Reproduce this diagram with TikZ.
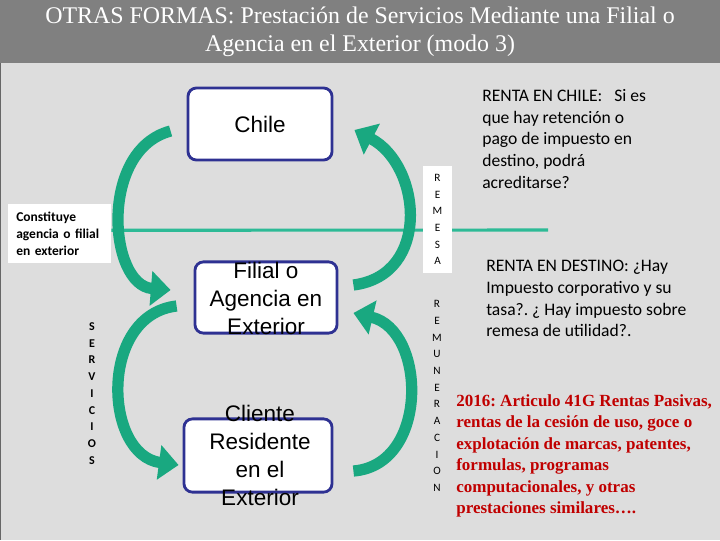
\documentclass[tikz,border=0pt]{standalone}
\usepackage{fontspec}
\setmainfont{Liberation Serif}
\setsansfont{Liberation Sans}
\newfontfamily\calibri{Carlito}
\usetikzlibrary{arrows.meta,positioning,calc}
\definecolor{fondo}{HTML}{DDDDDD}
\definecolor{barra}{HTML}{808080}
\definecolor{azulcaja}{HTML}{2E3192}
\definecolor{verde}{HTML}{19A880}
\definecolor{verdelinea}{HTML}{2DBA96}
\definecolor{rojo}{HTML}{C00000}
\frenchspacing

\begin{document}
\begin{tikzpicture}[x=0.025cm, y=-0.025cm,
  caja/.style={draw=azulcaja, fill=white, line width=2pt, rounded corners=6pt},
  textocaja/.style={font=\sffamily\fontsize{16}{19.9}\selectfont, align=center, inner sep=0pt},
  blanca/.style={fill=white, inner sep=0pt},
  flecha/.style={verde, line width=8pt, -{Triangle[width=24pt,length=14pt]}},
  letras/.style={font=\calibri\fontsize{8}{11.9}\selectfont, align=center, inner sep=0pt},
  nota/.style={font=\calibri\fontsize{12.5}{15.4}\selectfont, align=left, anchor=north west, inner sep=0pt}]
  % Filial o agencia en el exterior (modo 3)
  \useasboundingbox (0,0) rectangle (720,540);
  \fill[fondo] (0,0) rectangle (720,540);
  \fill[barra] (0,0) rectangle (720,63);
  \draw[black!60, line width=1.2pt] (0.6,63) -- (0.6,540);
  \node[white, align=center, font=\fontsize{17}{19.9}\selectfont] (titulo) at (360,32)
    {OTRAS FORMAS: Prestación de Servicios Mediante una Filial o\\Agencia en el Exterior (modo 3)};

  \node[blanca, anchor=north west, text width=2.17cm, inner xsep=0.2cm, minimum height=1.475cm, align=left,
    font=\calibri\bfseries\fontsize{9.6}{12}\selectfont] (constituye) at (8,204)
    {Constituye\\agencia o filial\\en exterior};
  \coordinate (finlinea) at (548,230);
  \draw[verdelinea, line width=2.2pt] ($(constituye.east)+(0,-3.5)$) -- (finlinea);

  \node[caja, textocaja, minimum width=3.6cm, minimum height=1.8cm] (chile) at (260,124) {Chile};
  \node[caja, minimum width=3.55cm, minimum height=1.78cm] (filial) at (266,297.5) {};
  \node[caja, minimum width=3.7cm, minimum height=1.83cm] (cliente) at (258,455.5) {};
  \node[textocaja] (filialtexto) at (266,298) {Filial o\\Agencia en\\Exterior};
  \node[textocaja] (clientetexto) at (260,455) {Cliente\\Residente\\en el\\Exterior};

  \draw[flecha] ($(chile.west)+(-16,7)$) .. controls +(-72,19) and +(-62,-5) .. ($(filial.west)+(-23,-7.5)$);
  \draw[flecha] ($(filial.west)+(-17,8.5)$) .. controls +(-78,9) and +(-75,-10) .. ($(cliente.west)+(-4,9.5)$);
  \draw[flecha] ($(filial.east)+(15,-12.5)$) .. controls +(78,-10) and +(67,35) .. ($(chile.east)+(21,6)$);
  \draw[flecha] ($(cliente.east)+(20,15.5)$) .. controls +(76,-6) and +(73,17) .. ($(filial.east)+(15,15.5)$);

  \node[letras, font=\calibri\bfseries\fontsize{8.5}{11.9}\selectfont] (servicios) at (92,393.5) {S\\E\\R\\V\\I\\C\\I\\O\\S};
  \node[blanca, letras, minimum width=0.725cm, minimum height=2.68cm] (remesa) at (437.5,219.5) {R\\E\\M\\E\\S\\A};
  \node[letras] (remuneracion) at (437,396) {R\\E\\M\\U\\N\\E\\R\\A\\C\\I\\O\\N};

  \node[nota] (rentachile) at (482,89) {RENTA EN CHILE:\ \ \ Si es\\que hay retención o\\pago de impuesto en\\destino, podrá\\acreditarse?};
  \node[nota] (rentadestino) at (486,260) {RENTA EN DESTINO: ¿Hay\\Impuesto corporativo y su\\tasa?. ¿ Hay impuesto sobre\\remesa de utilidad?.};
  \node[nota, rojo, font=\bfseries\fontsize{12.1}{15.3}\selectfont] (articulo) at (456,394)
    {2016: Articulo 41G Rentas Pasivas,\\rentas de la cesión de uso, goce o\\explotación de marcas, patentes,\\formulas, programas\\computacionales, y otras\\prestaciones similares….};
\end{tikzpicture}
\end{document}
